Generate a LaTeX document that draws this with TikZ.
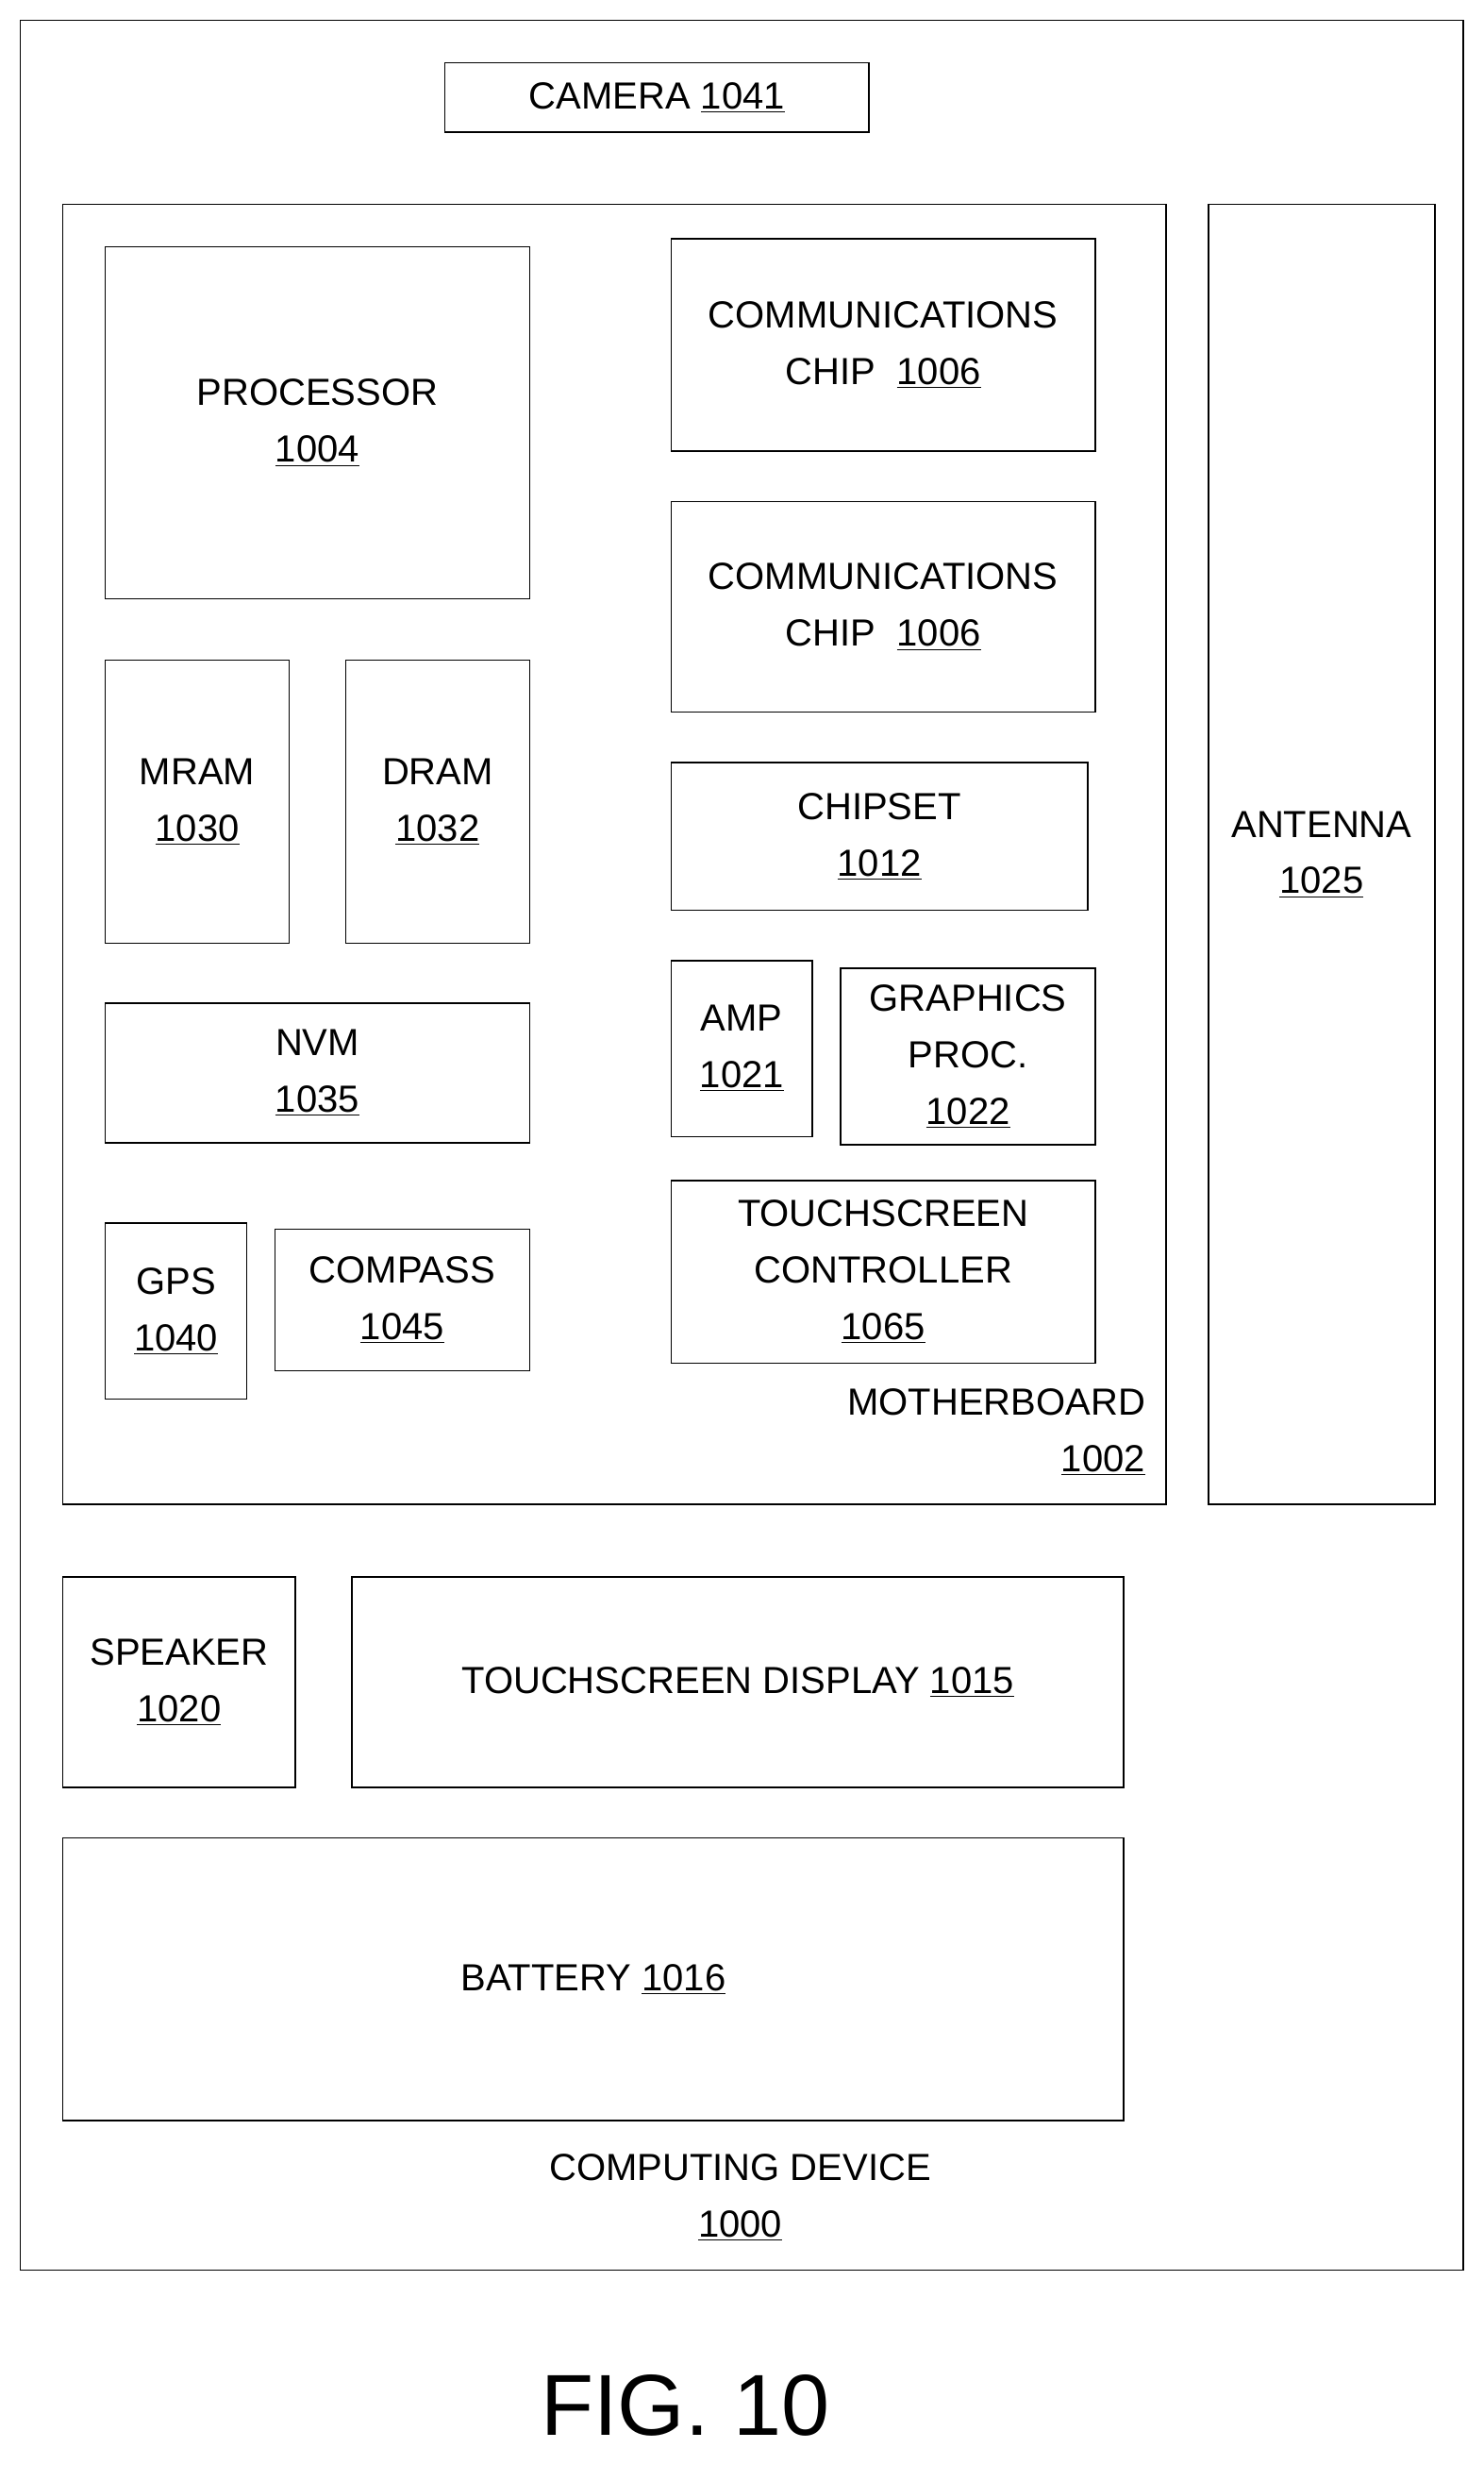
\documentclass[tikz,border=0pt]{standalone}
\usepackage{fontspec}
\setmainfont{Liberation Sans}
\newcommand\un[1]{\underline{#1}}
\newcommand\bx[6]{\node[box,minimum width={(#4-#2)*0.03cm},minimum height={(#5-#3)*0.03cm}] (#1) at ({(#2+#4)/2},{(#3+#5)/2}) {#6};}
\begin{document}
\begin{tikzpicture}[x=0.03cm,y=-0.03cm,
  box/.style={draw,line width=0.8pt,inner sep=0pt,align=center,font=\fontsize{20.5}{30.7}\selectfont},
  lbl/.style={inner sep=0pt,align=center,font=\fontsize{20.5}{30.7}\selectfont}]
\useasboundingbox (0,0) rectangle (944,1568);
\bx{dev}{13}{13}{931}{1444}{}
\bx{cam}{283}{40}{553}{84}{CAMERA \un{1041}}
\bx{mb}{40}{130}{742}{957}{}
\bx{ant}{769}{130}{913}{957}{ANTENNA\\\un{1025}}
\bx{proc}{67}{157}{337}{381}{PROCESSOR\\\un{1004}}
\bx{comA}{427}{152}{697}{287}{COMMUNICATIONS\\CHIP\ \ \un{1006}}
\bx{comB}{427}{319}{697}{453}{COMMUNICATIONS\\CHIP\ \ \un{1006}}
\bx{mram}{67}{420}{184}{600}{MRAM\\\un{1030}}
\bx{dram}{220}{420}{337}{600}{DRAM\\\un{1032}}
\bx{chip}{427}{485}{692}{579}{CHIPSET\\\un{1012}}
\bx{nvm}{67}{638}{337}{727}{NVM\\\un{1035}}
\bx{amp}{427}{611}{517}{723}{AMP\\\un{1021}}
\bx{gfx}{535}{616}{697}{728}{GRAPHICS\\PROC.\\\un{1022}}
\bx{gps}{67}{778}{157}{890}{GPS\\\un{1040}}
\bx{cmp}{175}{782}{337}{872}{COMPASS\\\un{1045}}
\bx{tsc}{427}{751}{697}{867}{TOUCHSCREEN\\CONTROLLER\\\un{1065}}
\bx{spk}{40}{1003}{188}{1137}{SPEAKER\\\un{1020}}
\bx{tsd}{224}{1003}{715}{1137}{TOUCHSCREEN DISPLAY \un{1015}}
\bx{bat}{40}{1169}{715}{1349}{BATTERY \un{1016}}
\node[lbl,align=right,anchor=east] (mbl) at (729,911) {MOTHERBOARD\\\un{1002}};
\node[lbl] (devl) at (471,1398) {COMPUTING DEVICE\\\un{1000}};
\node[inner sep=0pt,font=\fontsize{47}{50}\selectfont] (fig) at (436,1530) {FIG. 10};
\end{tikzpicture}
\end{document}
